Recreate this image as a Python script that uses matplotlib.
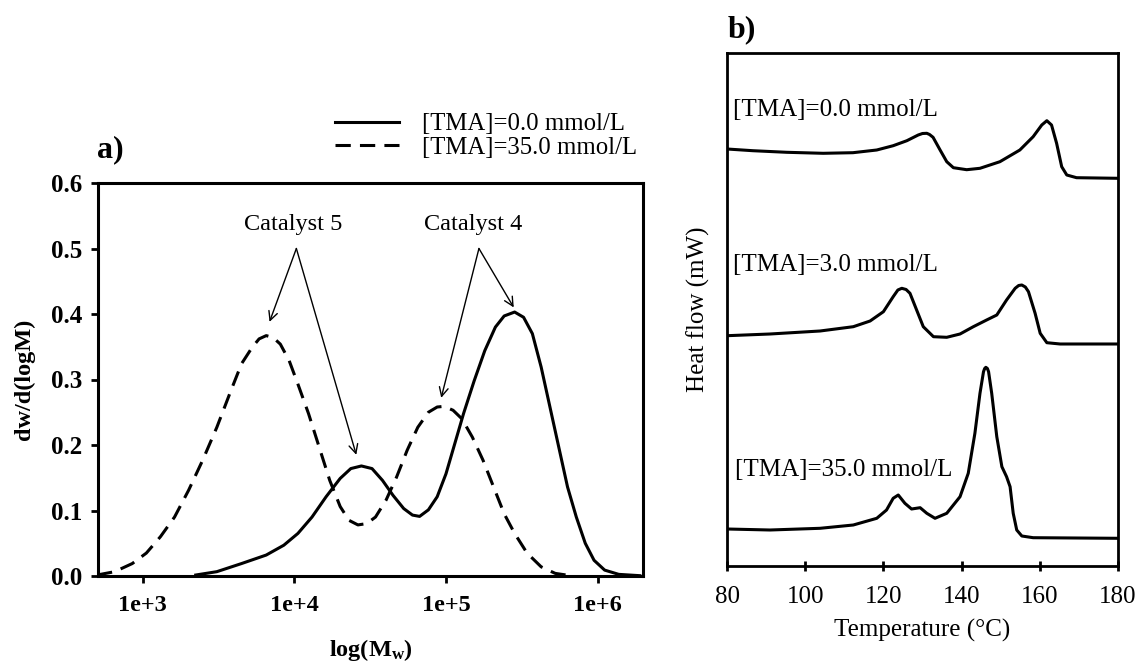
import matplotlib
matplotlib.use("Agg")
import matplotlib.pyplot as plt
from matplotlib.ticker import FixedLocator, FixedFormatter, NullLocator

plt.rcParams['font.family'] = ['Liberation Serif', 'DejaVu Serif']
plt.rcParams['mathtext.fontset'] = 'custom'
plt.rcParams['mathtext.rm'] = 'Liberation Serif'
plt.rcParams['mathtext.bf'] = 'Liberation Serif:bold'

# ---------------- Panel a) data: GPC curves ----------------
logM_tma0 = [3.349, 3.488, 3.651, 3.814, 3.930, 4.023, 4.116, 4.209, 4.302, 4.372,
             4.442, 4.512, 4.581, 4.651, 4.721, 4.779, 4.826, 4.884, 4.942, 5.000,
             5.058, 5.116, 5.186, 5.256, 5.326, 5.384, 5.453, 5.512, 5.570, 5.628,
             5.686, 5.744, 5.802, 5.860, 5.919, 5.977, 6.047, 6.140, 6.279]
dw_tma0 = [0.0015, 0.0066, 0.019, 0.032, 0.047, 0.065, 0.090, 0.121, 0.149, 0.164,
           0.168, 0.164, 0.146, 0.123, 0.103, 0.093, 0.091, 0.101, 0.121, 0.156,
           0.202, 0.248, 0.298, 0.344, 0.380, 0.397, 0.403, 0.395, 0.370, 0.319,
           0.258, 0.197, 0.136, 0.090, 0.050, 0.024, 0.009, 0.0025, 0.0005]

logM_tma35 = [2.698, 2.814, 2.930, 3.023, 3.116, 3.209, 3.302, 3.395, 3.488, 3.581,
              3.651, 3.721, 3.767, 3.814, 3.860, 3.907, 3.965, 4.023, 4.093, 4.163,
              4.233, 4.302, 4.360, 4.419, 4.477, 4.535, 4.605, 4.674, 4.744, 4.814,
              4.884, 4.942, 4.988, 5.047, 5.105, 5.174, 5.244, 5.314, 5.384, 5.453,
              5.535, 5.628, 5.721, 5.837]
dw_tma35 = [0.0015, 0.0066, 0.019, 0.035, 0.060, 0.090, 0.131, 0.177, 0.227, 0.283,
            0.324, 0.349, 0.362, 0.367, 0.364, 0.354, 0.329, 0.293, 0.248, 0.197,
            0.146, 0.106, 0.085, 0.078, 0.080, 0.090, 0.116, 0.151, 0.192, 0.227,
            0.250, 0.258, 0.259, 0.253, 0.240, 0.212, 0.177, 0.136, 0.095, 0.065,
            0.035, 0.014, 0.004, 0.0]

xticks_a = [1e3, 1e4, 1e5, 1e6]
xticklabels_a = ['1e+3', '1e+4', '1e+5', '1e+6']
yticks_a = [0.0, 0.1, 0.2, 0.3, 0.4, 0.5, 0.6]
legend_labels = ['[TMA]=0.0 mmol/L', '[TMA]=35.0 mmol/L']

# ---------------- Panel b) data: DSC curves ----------------
T_0 = [80.0, 86.6, 95.3, 104.6, 112.2, 118.3, 122.5, 126.0, 128.9, 130.0, 131.1, 131.8,
       132.7, 134.5, 136.2, 137.9, 141.3, 144.7, 149.8, 154.9, 158.3, 160.5, 161.8,
       163.0, 164.3, 165.6, 166.9, 169.4, 180.0]
H_0 = [4.170, 4.153, 4.137, 4.127, 4.133, 4.160, 4.203, 4.253, 4.310, 4.325, 4.327, 4.315,
       4.287, 4.160, 4.043, 3.983, 3.963, 3.977, 4.043, 4.160, 4.293, 4.410, 4.453,
       4.410, 4.227, 3.993, 3.910, 3.883, 3.877]

T_3 = [80.0, 91.0, 103.8, 112.3, 116.6, 120.0, 122.5, 123.7, 124.7, 125.8, 126.8, 128.5,
       130.2, 132.8, 136.2, 139.6, 143.0, 146.4, 149.0, 151.5, 153.7, 154.6, 155.4,
       156.3, 157.1, 158.8, 160.1, 161.8, 165.2, 180.0]
H_3 = [2.303, 2.320, 2.350, 2.393, 2.450, 2.543, 2.693, 2.760, 2.777, 2.765, 2.727, 2.560,
       2.393, 2.293, 2.287, 2.320, 2.393, 2.460, 2.510, 2.660, 2.777, 2.805, 2.810,
       2.790, 2.743, 2.527, 2.327, 2.233, 2.220, 2.220]

T_35 = [80.0, 91.0, 103.8, 112.3, 118.3, 120.8, 122.5, 123.8, 125.5, 127.2, 129.4, 131.1,
        133.2, 136.2, 139.6, 141.7, 143.4, 144.7, 145.6, 145.9, 146.2, 146.6, 146.9,
        147.7, 149.0, 150.3, 151.5, 152.4, 153.2, 154.1, 155.4, 158.3, 180.0]
H_35 = [0.370, 0.360, 0.377, 0.410, 0.477, 0.560, 0.677, 0.710, 0.627, 0.570, 0.583, 0.527,
        0.477, 0.527, 0.693, 0.927, 1.327, 1.727, 1.943, 1.975, 1.987, 1.975, 1.943,
        1.727, 1.293, 0.993, 0.893, 0.793, 0.527, 0.360, 0.300, 0.283, 0.277]

xticks_b = [80, 100, 120, 140, 160, 180]
dsc_labels = ['[TMA]=0.0 mmol/L', '[TMA]=3.0 mmol/L', '[TMA]=35.0 mmol/L']

W, H = 1141, 664
fig = plt.figure(figsize=(W / 100, H / 100), dpi=100)

# ---------- Panel a ----------
ax1 = fig.add_axes([98 / W, 1 - 576 / H, (643 - 98) / W, (576 - 183) / H])
l1, = ax1.plot([10 ** v for v in logM_tma0], dw_tma0, color='black', lw=2.2,
               solid_joinstyle='round')
l2, = ax1.plot([10 ** v for v in logM_tma35], dw_tma35, color='black', lw=2.2,
               dashes=(5, 3))
ax1.set_xscale('log')
ax1.set_xlim(10 ** 2.704, 10 ** 6.30)
ax1.set_ylim(0, 0.6)
ax1.xaxis.set_major_locator(FixedLocator(xticks_a))
ax1.xaxis.set_major_formatter(FixedFormatter(xticklabels_a))
ax1.xaxis.set_minor_locator(NullLocator())
ax1.set_yticks(yticks_a)
ax1.set_yticklabels(['%.1f' % v for v in yticks_a])
for s in ax1.spines.values():
    s.set_linewidth(2.2)
ax1.tick_params(axis='both', direction='out', length=5, width=2,
                labelsize=17.5, pad=6)
ax1.tick_params(axis='y', labelsize=18)
ax1.tick_params(axis='x', pad=9)
for lab in ax1.get_xticklabels() + ax1.get_yticklabels():
    lab.set_fontweight('bold')
ax1.set_xlabel(r'$\mathbf{log(M_{w})}$', fontsize=17.5, labelpad=15)
ax1.set_ylabel('dw/d(logM)', fontsize=17.5, fontweight='bold', labelpad=12)

fig.text(97 / W, 1 - 150 / H, 'a)', fontsize=23, fontweight='bold',
         ha='left', va='center')

leg = ax1.legend([l1, l2], legend_labels, loc='center left',
                 bbox_to_anchor=(335 / W, 1 - 136 / H),
                 bbox_transform=fig.transFigure, frameon=False, fontsize=17.8,
                 handlelength=2.6, handletextpad=0.9, labelspacing=0.05,
                 borderpad=0, borderaxespad=0)

# annotations
ax1.text(9840, 0.537, 'Catalyst 5', fontsize=17.5, ha='center', va='center')
ax1.text(1.5e5, 0.537, 'Catalyst 4', fontsize=17.5, ha='center', va='center')
ap = dict(arrowstyle='->', lw=1, color='black', shrinkA=0, shrinkB=0,
          mutation_scale=16)
ax1.annotate('', xy=(6850, 0.388), xytext=(1.03e4, 0.50), arrowprops=ap)
ax1.annotate('', xy=(2.56e4, 0.185), xytext=(1.03e4, 0.50), arrowprops=ap)
ax1.annotate('', xy=(2.8e5, 0.41), xytext=(1.65e5, 0.50), arrowprops=ap)
ax1.annotate('', xy=(9.3e4, 0.272), xytext=(1.65e5, 0.50), arrowprops=ap)

# ---------- Panel b ----------
ax2 = fig.add_axes([727 / W, 1 - 566 / H, (1118 - 727) / W, (566 - 53) / H])
for TT, HH in [(T_0, H_0), (T_3, H_3), (T_35, H_35)]:
    ax2.plot(TT, HH, color='black', lw=2.2, solid_joinstyle='round')
ax2.set_xlim(80, 180)
ax2.set_ylim(0, 5.13)
ax2.set_xticks(xticks_b)
ax2.set_yticks([])
for s in ax2.spines.values():
    s.set_linewidth(2.0)
ax2.tick_params(axis='x', direction='inout', length=7, width=2, labelsize=18, pad=11)
ax2.set_xlabel('Temperature (°C)', fontsize=18, labelpad=8)
ax2.set_ylabel('Heat flow (mW)', fontsize=18, labelpad=12)

ax2.text(81.5, 4.56, dsc_labels[0], fontsize=18, ha='left', va='center')
ax2.text(81.5, 3.01, dsc_labels[1], fontsize=18, ha='left', va='center')
ax2.text(82.0, 0.96, dsc_labels[2], fontsize=18, ha='left', va='center')

fig.text(728 / W, 1 - 30 / H, 'b)', fontsize=23, fontweight='bold',
         ha='left', va='center')

fig.savefig('out.png', dpi=100)
